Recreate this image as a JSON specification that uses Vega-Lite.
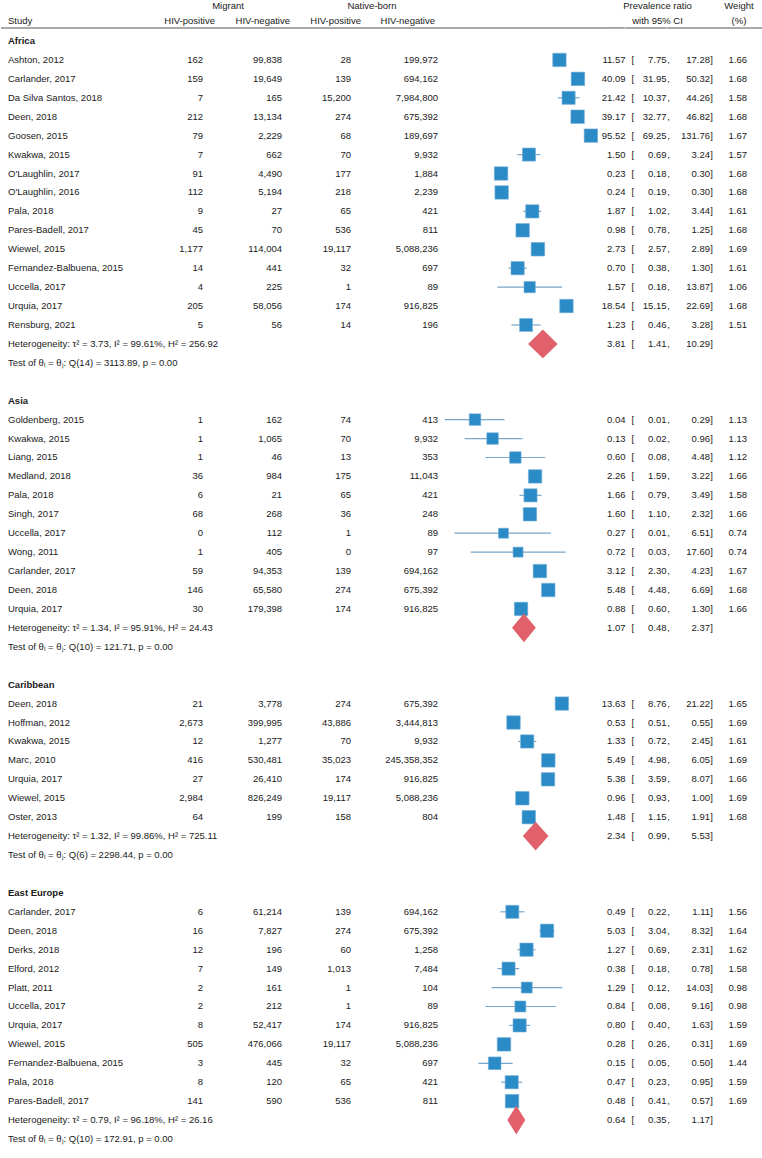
{
"$schema":"https://vega.github.io/schema/vega-lite/v6.json",
"padding":0,
"background":"white",
"spacing":0,
"bounds":"flush",
"config":{"view":{"stroke":null},"text":{"font":"Liberation Sans","fontSize":9.5,"color":"#1a1a1a","baseline":"middle"},"concat":{"spacing":0}},
"datasets":{
"one":[{}],
"groups":[{"row":0,"g":"Africa"},{"row":19,"g":"Asia"},{"row":34,"g":"Caribbean"},{"row":45,"g":"East Europe"}],
"notes":[
{"row":16,"t":"Heterogeneity: τ² = 3.73, I² = 99.61%, H² = 256.92"},
{"row":17,"t":"Test of θᵢ = θⱼ: Q(14) = 3113.89, p = 0.00"},
{"row":31,"t":"Heterogeneity: τ² = 1.34, I² = 95.91%, H² = 24.43"},
{"row":32,"t":"Test of θᵢ = θⱼ: Q(10) = 121.71, p = 0.00"},
{"row":42,"t":"Heterogeneity: τ² = 1.32, I² = 99.86%, H² = 725.11"},
{"row":43,"t":"Test of θᵢ = θⱼ: Q(6) = 2298.44, p = 0.00"},
{"row":57,"t":"Heterogeneity: τ² = 0.79, I² = 96.18%, H² = 26.16"},
{"row":58,"t":"Test of θᵢ = θⱼ: Q(10) = 172.91, p = 0.00"}],
"summary":[
{"r":"Africa","pr":3.81,"lo":1.41,"hi":10.29,"row":16},
{"r":"Asia","pr":1.07,"lo":0.48,"hi":2.37,"row":31},
{"r":"Caribbean","pr":2.34,"lo":0.99,"hi":5.53,"row":42},
{"r":"East Europe","pr":0.64,"lo":0.35,"hi":1.17,"row":57}],
"studies":[
{"r":"Africa","s":"Ashton, 2012","mp":162,"mn":99838,"np":28,"nn":199972,"pr":11.57,"lo":7.75,"hi":17.28,"w":1.66,"row":1},
{"r":"Africa","s":"Carlander, 2017","mp":159,"mn":19649,"np":139,"nn":694162,"pr":40.09,"lo":31.95,"hi":50.32,"w":1.68,"row":2},
{"r":"Africa","s":"Da Silva Santos, 2018","mp":7,"mn":165,"np":15200,"nn":7984800,"pr":21.42,"lo":10.37,"hi":44.26,"w":1.58,"row":3},
{"r":"Africa","s":"Deen, 2018","mp":212,"mn":13134,"np":274,"nn":675392,"pr":39.17,"lo":32.77,"hi":46.82,"w":1.68,"row":4},
{"r":"Africa","s":"Goosen, 2015","mp":79,"mn":2229,"np":68,"nn":189697,"pr":95.52,"lo":69.25,"hi":131.76,"w":1.67,"row":5},
{"r":"Africa","s":"Kwakwa, 2015","mp":7,"mn":662,"np":70,"nn":9932,"pr":1.50,"lo":0.69,"hi":3.24,"w":1.57,"row":6},
{"r":"Africa","s":"O'Laughlin, 2017","mp":91,"mn":4490,"np":177,"nn":1884,"pr":0.23,"lo":0.18,"hi":0.30,"w":1.68,"row":7},
{"r":"Africa","s":"O'Laughlin, 2016","mp":112,"mn":5194,"np":218,"nn":2239,"pr":0.24,"lo":0.19,"hi":0.30,"w":1.68,"row":8},
{"r":"Africa","s":"Pala, 2018","mp":9,"mn":27,"np":65,"nn":421,"pr":1.87,"lo":1.02,"hi":3.44,"w":1.61,"row":9},
{"r":"Africa","s":"Pares-Badell, 2017","mp":45,"mn":70,"np":536,"nn":811,"pr":0.98,"lo":0.78,"hi":1.25,"w":1.68,"row":10},
{"r":"Africa","s":"Wiewel, 2015","mp":1177,"mn":114004,"np":19117,"nn":5088236,"pr":2.73,"lo":2.57,"hi":2.89,"w":1.69,"row":11},
{"r":"Africa","s":"Fernandez-Balbuena, 2015","mp":14,"mn":441,"np":32,"nn":697,"pr":0.70,"lo":0.38,"hi":1.30,"w":1.61,"row":12},
{"r":"Africa","s":"Uccella, 2017","mp":4,"mn":225,"np":1,"nn":89,"pr":1.57,"lo":0.18,"hi":13.87,"w":1.06,"row":13},
{"r":"Africa","s":"Urquia, 2017","mp":205,"mn":58056,"np":174,"nn":916825,"pr":18.54,"lo":15.15,"hi":22.69,"w":1.68,"row":14},
{"r":"Africa","s":"Rensburg, 2021","mp":5,"mn":56,"np":14,"nn":196,"pr":1.23,"lo":0.46,"hi":3.28,"w":1.51,"row":15},
{"r":"Asia","s":"Goldenberg, 2015","mp":1,"mn":162,"np":74,"nn":413,"pr":0.04,"lo":0.0053,"hi":0.29,"w":1.13,"row":20},
{"r":"Asia","s":"Kwakwa, 2015","mp":1,"mn":1065,"np":70,"nn":9932,"pr":0.13,"lo":0.02,"hi":0.96,"w":1.13,"row":21},
{"r":"Asia","s":"Liang, 2015","mp":1,"mn":46,"np":13,"nn":353,"pr":0.60,"lo":0.08,"hi":4.48,"w":1.12,"row":22},
{"r":"Asia","s":"Medland, 2018","mp":36,"mn":984,"np":175,"nn":11043,"pr":2.26,"lo":1.59,"hi":3.22,"w":1.66,"row":23},
{"r":"Asia","s":"Pala, 2018","mp":6,"mn":21,"np":65,"nn":421,"pr":1.66,"lo":0.79,"hi":3.49,"w":1.58,"row":24},
{"r":"Asia","s":"Singh, 2017","mp":68,"mn":268,"np":36,"nn":248,"pr":1.60,"lo":1.10,"hi":2.32,"w":1.66,"row":25},
{"r":"Asia","s":"Uccella, 2017","mp":0,"mn":112,"np":1,"nn":89,"pr":0.27,"lo":0.01,"hi":6.51,"w":0.74,"row":26},
{"r":"Asia","s":"Wong, 2011","mp":1,"mn":405,"np":0,"nn":97,"pr":0.72,"lo":0.03,"hi":17.60,"w":0.74,"row":27},
{"r":"Asia","s":"Carlander, 2017","mp":59,"mn":94353,"np":139,"nn":694162,"pr":3.12,"lo":2.30,"hi":4.23,"w":1.67,"row":28},
{"r":"Asia","s":"Deen, 2018","mp":146,"mn":65580,"np":274,"nn":675392,"pr":5.48,"lo":4.48,"hi":6.69,"w":1.68,"row":29},
{"r":"Asia","s":"Urquia, 2017","mp":30,"mn":179398,"np":174,"nn":916825,"pr":0.88,"lo":0.60,"hi":1.30,"w":1.66,"row":30},
{"r":"Caribbean","s":"Deen, 2018","mp":21,"mn":3778,"np":274,"nn":675392,"pr":13.63,"lo":8.76,"hi":21.22,"w":1.65,"row":35},
{"r":"Caribbean","s":"Hoffman, 2012","mp":2673,"mn":399995,"np":43886,"nn":3444813,"pr":0.53,"lo":0.51,"hi":0.55,"w":1.69,"row":36},
{"r":"Caribbean","s":"Kwakwa, 2015","mp":12,"mn":1277,"np":70,"nn":9932,"pr":1.33,"lo":0.72,"hi":2.45,"w":1.61,"row":37},
{"r":"Caribbean","s":"Marc, 2010","mp":416,"mn":530481,"np":35023,"nn":245358352,"pr":5.49,"lo":4.98,"hi":6.05,"w":1.69,"row":38},
{"r":"Caribbean","s":"Urquia, 2017","mp":27,"mn":26410,"np":174,"nn":916825,"pr":5.38,"lo":3.59,"hi":8.07,"w":1.66,"row":39},
{"r":"Caribbean","s":"Wiewel, 2015","mp":2984,"mn":826249,"np":19117,"nn":5088236,"pr":0.96,"lo":0.93,"hi":1.00,"w":1.69,"row":40},
{"r":"Caribbean","s":"Oster, 2013","mp":64,"mn":199,"np":158,"nn":804,"pr":1.48,"lo":1.15,"hi":1.91,"w":1.68,"row":41},
{"r":"East Europe","s":"Carlander, 2017","mp":6,"mn":61214,"np":139,"nn":694162,"pr":0.49,"lo":0.22,"hi":1.11,"w":1.56,"row":46},
{"r":"East Europe","s":"Deen, 2018","mp":16,"mn":7827,"np":274,"nn":675392,"pr":5.03,"lo":3.04,"hi":8.32,"w":1.64,"row":47},
{"r":"East Europe","s":"Derks, 2018","mp":12,"mn":196,"np":60,"nn":1258,"pr":1.27,"lo":0.69,"hi":2.31,"w":1.62,"row":48},
{"r":"East Europe","s":"Elford, 2012","mp":7,"mn":149,"np":1013,"nn":7484,"pr":0.38,"lo":0.18,"hi":0.78,"w":1.58,"row":49},
{"r":"East Europe","s":"Platt, 2011","mp":2,"mn":161,"np":1,"nn":104,"pr":1.29,"lo":0.12,"hi":14.03,"w":0.98,"row":50},
{"r":"East Europe","s":"Uccella, 2017","mp":2,"mn":212,"np":1,"nn":89,"pr":0.84,"lo":0.08,"hi":9.16,"w":0.98,"row":51},
{"r":"East Europe","s":"Urquia, 2017","mp":8,"mn":52417,"np":174,"nn":916825,"pr":0.80,"lo":0.40,"hi":1.63,"w":1.59,"row":52},
{"r":"East Europe","s":"Wiewel, 2015","mp":505,"mn":476066,"np":19117,"nn":5088236,"pr":0.28,"lo":0.26,"hi":0.31,"w":1.69,"row":53},
{"r":"East Europe","s":"Fernandez-Balbuena, 2015","mp":3,"mn":445,"np":32,"nn":697,"pr":0.15,"lo":0.05,"hi":0.50,"w":1.44,"row":54},
{"r":"East Europe","s":"Pala, 2018","mp":8,"mn":120,"np":65,"nn":421,"pr":0.47,"lo":0.23,"hi":0.95,"w":1.59,"row":55},
{"r":"East Europe","s":"Pares-Badell, 2017","mp":141,"mn":590,"np":536,"nn":811,"pr":0.48,"lo":0.41,"hi":0.57,"w":1.69,"row":56}
]
},
"hconcat":[
{"width":202,"height":1158,"layer":[
{"data":{"name":"one"},"mark":{"type":"rule","color":"#8c8c8c","strokeWidth":1.5},"encoding":{"y":{"datum":-0.69,"type":"quantitative","scale":{"domain":[0,58],"range":[41,1139],"nice":false,"zero":false},"axis":null}}},
{"data":{"name":"one"},"mark":{"type":"text","align":"left","dx":7},"encoding":{"x":{"value":0},"y":{"datum":-1.08,"type":"quantitative","scale":{"domain":[0,58],"range":[41,1139],"nice":false,"zero":false},"axis":null},"text":{"value":"Study"}}},
{"data":{"name":"one"},"mark":{"type":"text","align":"right","dx":12},"encoding":{"x":{"value":"width"},"y":{"datum":-1.08,"type":"quantitative","scale":{"domain":[0,58],"range":[41,1139],"nice":false,"zero":false},"axis":null},"text":{"value":"HIV-positive"}}},
{"data":{"name":"groups"},"mark":{"type":"text","align":"left","dx":7,"fontWeight":"bold"},"encoding":{"x":{"value":0},"y":{"field":"row","type":"quantitative","scale":{"domain":[0,58],"range":[41,1139],"nice":false,"zero":false},"axis":null},"text":{"field":"g"}}},
{"data":{"name":"notes"},"mark":{"type":"text","align":"left","dx":7},"encoding":{"x":{"value":0},"y":{"field":"row","type":"quantitative","scale":{"domain":[0,58],"range":[41,1139],"nice":false,"zero":false},"axis":null},"text":{"field":"t"}}},
{"data":{"name":"studies"},"mark":{"type":"text","align":"left","dx":7},"encoding":{"x":{"value":0},"y":{"field":"row","type":"quantitative","scale":{"domain":[0,58],"range":[41,1139],"nice":false,"zero":false},"axis":null},"text":{"field":"s"}}},
{"data":{"name":"studies"},"mark":{"type":"text","align":"right"},"encoding":{"x":{"value":"width"},"y":{"field":"row","type":"quantitative","scale":{"domain":[0,58],"range":[41,1139],"nice":false,"zero":false},"axis":null},"text":{"field":"mp","type":"quantitative","format":","}}}
]},
{"width":79,"height":1158,"layer":[
{"data":{"name":"one"},"mark":{"type":"rule","color":"#8c8c8c","strokeWidth":1.5},"encoding":{"y":{"datum":-0.69,"type":"quantitative","scale":{"domain":[0,58],"range":[41,1139],"nice":false,"zero":false},"axis":null}}},
{"data":{"name":"one"},"mark":{"type":"text","align":"center","dx":25},"encoding":{"x":{"value":0},"y":{"datum":-1.87,"type":"quantitative","scale":{"domain":[0,58],"range":[41,1139],"nice":false,"zero":false},"axis":null},"text":{"value":"Migrant"}}},
{"data":{"name":"one"},"mark":{"type":"text","align":"right","dx":8},"encoding":{"x":{"value":"width"},"y":{"datum":-1.08,"type":"quantitative","scale":{"domain":[0,58],"range":[41,1139],"nice":false,"zero":false},"axis":null},"text":{"value":"HIV-negative"}}},
{"data":{"name":"studies"},"mark":{"type":"text","align":"right"},"encoding":{"x":{"value":"width"},"y":{"field":"row","type":"quantitative","scale":{"domain":[0,58],"range":[41,1139],"nice":false,"zero":false},"axis":null},"text":{"field":"mn","type":"quantitative","format":","}}}
]},
{"width":69,"height":1158,"layer":[
{"data":{"name":"one"},"mark":{"type":"rule","color":"#8c8c8c","strokeWidth":1.5},"encoding":{"y":{"datum":-0.69,"type":"quantitative","scale":{"domain":[0,58],"range":[41,1139],"nice":false,"zero":false},"axis":null}}},
{"data":{"name":"one"},"mark":{"type":"text","align":"right","dx":10},"encoding":{"x":{"value":"width"},"y":{"datum":-1.08,"type":"quantitative","scale":{"domain":[0,58],"range":[41,1139],"nice":false,"zero":false},"axis":null},"text":{"value":"HIV-positive"}}},
{"data":{"name":"studies"},"mark":{"type":"text","align":"right"},"encoding":{"x":{"value":"width"},"y":{"field":"row","type":"quantitative","scale":{"domain":[0,58],"range":[41,1139],"nice":false,"zero":false},"axis":null},"text":{"field":"np","type":"quantitative","format":","}}}
]},
{"width":87,"height":1158,"layer":[
{"data":{"name":"one"},"mark":{"type":"rule","color":"#8c8c8c","strokeWidth":1.5},"encoding":{"y":{"datum":-0.69,"type":"quantitative","scale":{"domain":[0,58],"range":[41,1139],"nice":false,"zero":false},"axis":null}}},
{"data":{"name":"one"},"mark":{"type":"text","align":"center","dx":21},"encoding":{"x":{"value":0},"y":{"datum":-1.87,"type":"quantitative","scale":{"domain":[0,58],"range":[41,1139],"nice":false,"zero":false},"axis":null},"text":{"value":"Native-born"}}},
{"data":{"name":"one"},"mark":{"type":"text","align":"right","dx":-3},"encoding":{"x":{"value":"width"},"y":{"datum":-1.08,"type":"quantitative","scale":{"domain":[0,58],"range":[41,1139],"nice":false,"zero":false},"axis":null},"text":{"value":"HIV-negative"}}},
{"data":{"name":"studies"},"mark":{"type":"text","align":"right"},"encoding":{"x":{"value":"width"},"y":{"field":"row","type":"quantitative","scale":{"domain":[0,58],"range":[41,1139],"nice":false,"zero":false},"axis":null},"text":{"field":"nn","type":"quantitative","format":","}}}
]},
{"width":167,"height":1158,"layer":[
{"data":{"name":"one"},"mark":{"type":"rule","color":"#8c8c8c","strokeWidth":1.5},"encoding":{"y":{"datum":-0.69,"type":"quantitative","scale":{"domain":[0,58],"range":[41,1139],"nice":false,"zero":false},"axis":null}}},
{"data":{"name":"studies"},"mark":{"type":"rule","color":"#7aa6c9","strokeWidth":1.2},"encoding":{"x":{"field":"lo","type":"quantitative","scale":{"type":"log","domain":[0.003337,246.6],"nice":false},"axis":null},"x2":{"field":"hi"},"y":{"field":"row","type":"quantitative","scale":{"domain":[0,58],"range":[41,1139],"nice":false,"zero":false},"axis":null}}},
{"data":{"name":"studies"},"mark":{"type":"square","filled":true,"color":"#2b8bc6","stroke":"#74afd9","strokeWidth":0.6,"opacity":1},"encoding":{"x":{"field":"pr","type":"quantitative","scale":{"type":"log","domain":[0.003337,246.6],"nice":false},"axis":null},"y":{"field":"row","type":"quantitative","scale":{"domain":[0,58],"range":[41,1139],"nice":false,"zero":false},"axis":null},"size":{"field":"w","type":"quantitative","scale":{"domain":[0.74,1.69],"range":[100,182],"zero":false},"legend":null}}},
{"data":{"name":"summary"},"transform":[{"fold":["lo","pr","hi"],"as":["k","v"]},{"calculate":"datum.row - (datum.k === 'pr' ? 0.76 : 0)","as":"yt"},{"calculate":"datum.row + (datum.k === 'pr' ? 0.76 : 0)","as":"yb"}],"mark":{"type":"area","orient":"vertical","color":"#e0606c","opacity":1},"encoding":{"x":{"field":"v","type":"quantitative","scale":{"type":"log","domain":[0.003337,246.6],"nice":false},"axis":null},"y":{"field":"yt","type":"quantitative","scale":{"domain":[0,58],"range":[41,1139],"nice":false,"zero":false},"axis":null},"y2":{"field":"yb"},"detail":{"field":"r"}}}
]},
{"width":20.5,"height":1158,"layer":[
{"data":{"name":"one"},"mark":{"type":"rule","color":"#8c8c8c","strokeWidth":1.5},"encoding":{"y":{"datum":-0.69,"type":"quantitative","scale":{"domain":[0,58],"range":[41,1139],"nice":false,"zero":false},"axis":null}}},
{"data":{"name":"studies"},"mark":{"type":"text","align":"right"},"encoding":{"x":{"value":"width"},"y":{"field":"row","type":"quantitative","scale":{"domain":[0,58],"range":[41,1139],"nice":false,"zero":false},"axis":null},"text":{"field":"pr","type":"quantitative","format":".2f"}}},
{"data":{"name":"summary"},"mark":{"type":"text","align":"right"},"encoding":{"x":{"value":"width"},"y":{"field":"row","type":"quantitative","scale":{"domain":[0,58],"range":[41,1139],"nice":false,"zero":false},"axis":null},"text":{"field":"pr","type":"quantitative","format":".2f"}}}
]},
{"width":40.5,"height":1158,"layer":[
{"data":{"name":"one"},"mark":{"type":"rule","color":"#8c8c8c","strokeWidth":1.5},"encoding":{"y":{"datum":-0.69,"type":"quantitative","scale":{"domain":[0,58],"range":[41,1139],"nice":false,"zero":false},"axis":null}}},
{"data":{"name":"one"},"mark":{"type":"text","align":"center","dx":-9},"encoding":{"x":{"value":"width"},"y":{"datum":-1.87,"type":"quantitative","scale":{"domain":[0,58],"range":[41,1139],"nice":false,"zero":false},"axis":null},"text":{"value":"Prevalence ratio"}}},
{"data":{"name":"one"},"mark":{"type":"text","align":"center","dx":-9},"encoding":{"x":{"value":"width"},"y":{"datum":-1.08,"type":"quantitative","scale":{"domain":[0,58],"range":[41,1139],"nice":false,"zero":false},"axis":null},"text":{"value":"with 95% CI"}}},
{"data":{"name":"studies"},"mark":{"type":"text","align":"left","dx":5.5},"encoding":{"x":{"value":0},"y":{"field":"row","type":"quantitative","scale":{"domain":[0,58],"range":[41,1139],"nice":false,"zero":false},"axis":null},"text":{"value":"["}}},
{"data":{"name":"summary"},"mark":{"type":"text","align":"left","dx":5.5},"encoding":{"x":{"value":0},"y":{"field":"row","type":"quantitative","scale":{"domain":[0,58],"range":[41,1139],"nice":false,"zero":false},"axis":null},"text":{"value":"["}}},
{"data":{"name":"studies"},"mark":{"type":"text","align":"right"},"encoding":{"x":{"value":"width"},"y":{"field":"row","type":"quantitative","scale":{"domain":[0,58],"range":[41,1139],"nice":false,"zero":false},"axis":null},"text":{"field":"lo","type":"quantitative","format":".2f"}}},
{"data":{"name":"summary"},"mark":{"type":"text","align":"right"},"encoding":{"x":{"value":"width"},"y":{"field":"row","type":"quantitative","scale":{"domain":[0,58],"range":[41,1139],"nice":false,"zero":false},"axis":null},"text":{"field":"lo","type":"quantitative","format":".2f"}}}
]},
{"width":43,"height":1158,"layer":[
{"data":{"name":"one"},"mark":{"type":"rule","color":"#8c8c8c","strokeWidth":1.5},"encoding":{"y":{"datum":-0.69,"type":"quantitative","scale":{"domain":[0,58],"range":[41,1139],"nice":false,"zero":false},"axis":null}}},
{"data":{"name":"studies"},"mark":{"type":"text","align":"left","dx":0.3},"encoding":{"x":{"value":0},"y":{"field":"row","type":"quantitative","scale":{"domain":[0,58],"range":[41,1139],"nice":false,"zero":false},"axis":null},"text":{"value":","}}},
{"data":{"name":"summary"},"mark":{"type":"text","align":"left","dx":0.3},"encoding":{"x":{"value":0},"y":{"field":"row","type":"quantitative","scale":{"domain":[0,58],"range":[41,1139],"nice":false,"zero":false},"axis":null},"text":{"value":","}}},
{"data":{"name":"studies"},"mark":{"type":"text","align":"right"},"encoding":{"x":{"value":"width"},"y":{"field":"row","type":"quantitative","scale":{"domain":[0,58],"range":[41,1139],"nice":false,"zero":false},"axis":null},"text":{"field":"hi","type":"quantitative","format":".2f"}}},
{"data":{"name":"summary"},"mark":{"type":"text","align":"right"},"encoding":{"x":{"value":"width"},"y":{"field":"row","type":"quantitative","scale":{"domain":[0,58],"range":[41,1139],"nice":false,"zero":false},"axis":null},"text":{"field":"hi","type":"quantitative","format":".2f"}}}
]},
{"width":54,"height":1158,"layer":[
{"data":{"name":"one"},"mark":{"type":"rule","color":"#8c8c8c","strokeWidth":1.5},"encoding":{"y":{"datum":-0.69,"type":"quantitative","scale":{"domain":[0,58],"range":[41,1139],"nice":false,"zero":false},"axis":null}}},
{"data":{"name":"one"},"mark":{"type":"text","align":"center","dx":-25},"encoding":{"x":{"value":"width"},"y":{"datum":-1.87,"type":"quantitative","scale":{"domain":[0,58],"range":[41,1139],"nice":false,"zero":false},"axis":null},"text":{"value":"Weight"}}},
{"data":{"name":"one"},"mark":{"type":"text","align":"center","dx":-25},"encoding":{"x":{"value":"width"},"y":{"datum":-1.08,"type":"quantitative","scale":{"domain":[0,58],"range":[41,1139],"nice":false,"zero":false},"axis":null},"text":{"value":"(%)"}}},
{"data":{"name":"studies"},"mark":{"type":"text","align":"left","dx":0.3},"encoding":{"x":{"value":0},"y":{"field":"row","type":"quantitative","scale":{"domain":[0,58],"range":[41,1139],"nice":false,"zero":false},"axis":null},"text":{"value":"]"}}},
{"data":{"name":"summary"},"mark":{"type":"text","align":"left","dx":0.3},"encoding":{"x":{"value":0},"y":{"field":"row","type":"quantitative","scale":{"domain":[0,58],"range":[41,1139],"nice":false,"zero":false},"axis":null},"text":{"value":"]"}}},
{"data":{"name":"studies"},"mark":{"type":"text","align":"right","dx":-17},"encoding":{"x":{"value":"width"},"y":{"field":"row","type":"quantitative","scale":{"domain":[0,58],"range":[41,1139],"nice":false,"zero":false},"axis":null},"text":{"field":"w","type":"quantitative","format":".2f"}}}
]}
]
}
